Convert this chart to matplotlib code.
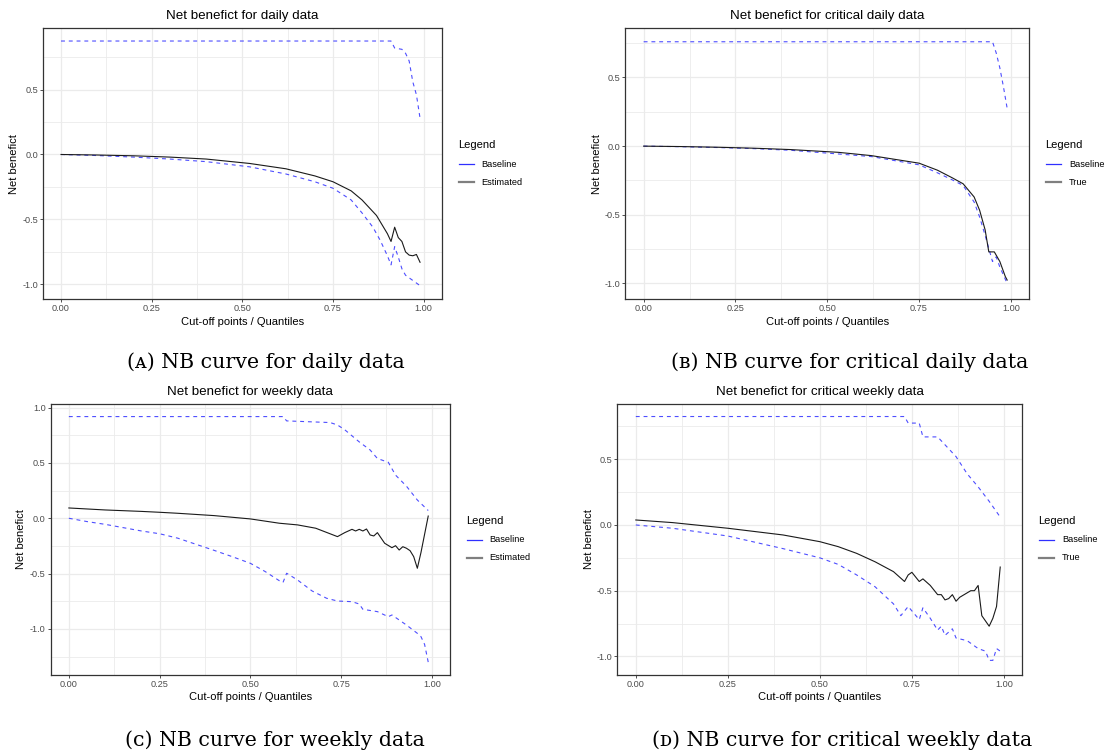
import matplotlib
matplotlib.use("Agg")
import matplotlib.pyplot as plt
from matplotlib.lines import Line2D

plt.rcParams['font.family'] = ['Liberation Sans', 'DejaVu Sans']

# ---------------- data ----------------
# (A) daily data
a_up_x = [0, 0.91, 0.92, 0.94, 0.95, 0.96, 0.97, 0.98, 0.99]
a_up_y = [0.874, 0.874, 0.82, 0.81, 0.78, 0.72, 0.56, 0.46, 0.28]
a_low_x = [0, 0.1, 0.2, 0.3, 0.4, 0.52, 0.62, 0.70, 0.75, 0.80, 0.83, 0.86, 0.88,
           0.90, 0.91, 0.92, 0.93, 0.94, 0.95, 0.97, 0.99]
a_low_y = [0, -0.008, -0.02, -0.035, -0.055, -0.095, -0.15, -0.21, -0.26, -0.35, -0.45,
           -0.56, -0.66, -0.78, -0.85, -0.71, -0.79, -0.88, -0.93, -0.97, -1.01]
a_est_x = [0, 0.1, 0.2, 0.3, 0.4, 0.52, 0.62, 0.70, 0.75, 0.80, 0.83, 0.87, 0.90, 0.91,
           0.92, 0.93, 0.94, 0.95, 0.96, 0.97, 0.98, 0.99]
a_est_y = [0.0, -0.004, -0.01, -0.02, -0.035, -0.069, -0.11, -0.165, -0.21, -0.28, -0.35,
           -0.47, -0.61, -0.67, -0.56, -0.64, -0.67, -0.75, -0.775, -0.78, -0.77, -0.83]

# (B) critical daily data
b_up_x = [0, 0.95, 0.96, 0.97, 0.98, 0.99]
b_up_y = [0.76, 0.76, 0.68, 0.57, 0.43, 0.275]
b_low_x = [0, 0.1, 0.2, 0.3, 0.4, 0.53, 0.62, 0.75, 0.80, 0.84, 0.87, 0.90, 0.915, 0.93,
           0.95, 0.96, 0.97, 0.99]
b_low_y = [0, -0.004, -0.01, -0.018, -0.03, -0.057, -0.076, -0.136, -0.194, -0.245,
           -0.286, -0.407, -0.516, -0.65, -0.84, -0.806, -0.88, -1.0]
b_true_x = [0, 0.1, 0.2, 0.3, 0.4, 0.53, 0.62, 0.75, 0.80, 0.84, 0.87, 0.90, 0.915, 0.93,
            0.94, 0.955, 0.97, 0.985, 0.99]
b_true_y = [0, -0.003, -0.008, -0.015, -0.025, -0.045, -0.069, -0.124, -0.175, -0.23,
            -0.274, -0.37, -0.467, -0.61, -0.77, -0.77, -0.84, -0.95, -0.975]

# (C) weekly data
c_up_x = [0, 0.59, 0.60, 0.72, 0.74, 0.76, 0.80, 0.83, 0.85, 0.88, 0.90, 0.93, 0.96, 0.99]
c_up_y = [0.919, 0.919, 0.88, 0.865, 0.843, 0.80, 0.69, 0.617, 0.54, 0.506, 0.39, 0.29,
          0.165, 0.07]
c_low_x = [0, 0.05, 0.1, 0.2, 0.25, 0.3, 0.4, 0.45, 0.5, 0.54, 0.58, 0.59, 0.60, 0.63,
           0.67, 0.71, 0.74, 0.78, 0.80, 0.81, 0.85, 0.88, 0.89, 0.93, 0.96, 0.97, 0.98, 0.99]
c_low_y = [0, -0.03, -0.055, -0.115, -0.14, -0.18, -0.29, -0.347, -0.407, -0.48, -0.565,
           -0.58, -0.497, -0.558, -0.657, -0.723, -0.748, -0.754, -0.775, -0.823, -0.844,
           -0.89, -0.874, -0.965, -1.04, -1.07, -1.14, -1.30]
c_est_x = [0, 0.1, 0.2, 0.25, 0.3, 0.4, 0.45, 0.5, 0.58, 0.63, 0.68, 0.74, 0.76, 0.78,
           0.79, 0.80, 0.81, 0.82, 0.83, 0.84, 0.85, 0.87, 0.89, 0.90, 0.91, 0.92, 0.93,
           0.94, 0.95, 0.96, 0.97, 0.99]
c_est_y = [0.093, 0.075, 0.062, 0.054, 0.045, 0.024, 0.009, -0.006, -0.045, -0.06, -0.09,
           -0.166, -0.13, -0.10, -0.115, -0.10, -0.115, -0.097, -0.151, -0.16, -0.13,
           -0.226, -0.266, -0.248, -0.287, -0.257, -0.271, -0.293, -0.347, -0.452, -0.31,
           0.02]

# (D) critical weekly data
d_up_x = [0, 0.73, 0.74, 0.77, 0.78, 0.82, 0.84, 0.87, 0.90, 0.93, 0.96, 0.99]
d_up_y = [0.825, 0.825, 0.775, 0.775, 0.67, 0.67, 0.61, 0.52, 0.39, 0.29, 0.18, 0.06]
d_low_x = [0, 0.1, 0.25, 0.4, 0.5, 0.55, 0.6, 0.65, 0.7, 0.72, 0.74, 0.77, 0.78, 0.8,
           0.82, 0.83, 0.84, 0.86, 0.87, 0.9, 0.93, 0.95, 0.96, 0.97, 0.98, 0.99]
d_low_y = [0, -0.025, -0.084, -0.18, -0.25, -0.30, -0.38, -0.47, -0.60, -0.69, -0.62,
           -0.72, -0.63, -0.71, -0.80, -0.77, -0.84, -0.79, -0.86, -0.88, -0.94, -0.96,
           -1.03, -1.03, -0.94, -0.96]
d_true_x = [0, 0.1, 0.25, 0.4, 0.5, 0.55, 0.6, 0.65, 0.7, 0.73, 0.74, 0.75, 0.77, 0.78,
            0.8, 0.82, 0.83, 0.84, 0.85, 0.86, 0.87, 0.88, 0.91, 0.92, 0.93, 0.94, 0.96,
            0.97, 0.98, 0.99]
d_true_y = [0.038, 0.018, -0.025, -0.076, -0.127, -0.165, -0.216, -0.28, -0.355, -0.43,
            -0.38, -0.36, -0.43, -0.41, -0.46, -0.53, -0.53, -0.57, -0.56, -0.53, -0.58,
            -0.55, -0.50, -0.50, -0.46, -0.69, -0.77, -0.71, -0.62, -0.32]

titles = ["Net benefict for daily data", "Net benefict for critical daily data",
          "Net benefict for weekly data", "Net benefict for critical weekly data"]
caption_letters = ["\u1d00", "\u0299", "\u1d04", "\u1d05"]   # small-caps A, B, C, D
caption_texts = ["NB curve for daily data", "NB curve for critical daily data",
                 "NB curve for weekly data", "NB curve for critical weekly data"]
legend_labels = [["Baseline", "Estimated"], ["Baseline", "True"],
                 ["Baseline", "Estimated"], ["Baseline", "True"]]
x_ticks = [0.0, 0.25, 0.5, 0.75, 1.0]
x_ticklabels = ["0.00", "0.25", "0.50", "0.75", "1.00"]

# ---------------- layout (pixels) ----------------
W, H = 1105, 753
fig = plt.figure(figsize=(W / 100, H / 100), dpi=100)
fig.patch.set_facecolor('white')

def fx(px):
    return px / W

def fy(py):
    return 1 - py / H

panels = [
    dict(box=(42.9, 28.3, 441.8, 299.0), ylim=(-1.113, 0.972),
         yticks=[-1.0, -0.5, 0.0, 0.5], ylab_x=14.3, title_y=15.7, xlab_y=321.7,
         leg=(458.2, 145.0), cap=(266, 362),
         series=(a_up_x, a_up_y, a_low_x, a_low_y, a_est_x, a_est_y)),
    dict(box=(625.3, 28.3, 1029.2, 299.0), ylim=(-1.113, 0.858),
         yticks=[-1.0, -0.5, 0.0, 0.5], ylab_x=596.5, title_y=15.7, xlab_y=321.7,
         leg=(1045.6, 145.0), cap=(850, 362),
         series=(b_up_x, b_up_y, b_low_x, b_low_y, b_true_x, b_true_y)),
    dict(box=(50.7, 404.3, 450.0, 674.7), ylim=(-1.414, 1.03),
         yticks=[-1.0, -0.5, 0.0, 0.5, 1.0], ylab_x=21.4, title_y=392.3, xlab_y=697.3,
         leg=(466.0, 520.7), cap=(275, 740),
         series=(c_up_x, c_up_y, c_low_x, c_low_y, c_est_x, c_est_y)),
    dict(box=(617.4, 404.3, 1022.3, 674.7), ylim=(-1.139, 0.918),
         yticks=[-1.0, -0.5, 0.0, 0.5], ylab_x=588.5, title_y=392.3, xlab_y=697.3,
         leg=(1038.6, 520.7), cap=(842, 740),
         series=(d_up_x, d_up_y, d_low_x, d_low_y, d_true_x, d_true_y)),
]

blue = '#2F2FFF'
dark = '#1A1A1A'
grid_c = '#EBEBEB'
border_c = '#333333'
tick_c = '#4D4D4D'

for i, p in enumerate(panels):
    l, t, r, b = p['box']
    ax = fig.add_axes([fx(l), fy(b), (r - l) / W, (b - t) / H])
    ax.set_xlim(-0.05, 1.05)
    ax.set_ylim(*p['ylim'])
    ax.set_facecolor('white')

    ax.set_xticks(x_ticks)
    ax.set_xticklabels(x_ticklabels)
    ax.set_xticks([0.125, 0.375, 0.625, 0.875], minor=True)
    ax.set_yticks(p['yticks'])
    ax.set_yticklabels(["%.1f" % v for v in p['yticks']])
    ymin, ymax = p['ylim']
    minors = [v + 0.25 for v in [-1.5, -1.0, -0.5, 0.0, 0.5, 1.0] if ymin < v + 0.25 < ymax]
    ax.set_yticks(minors, minor=True)
    ax.grid(True, which='major', color=grid_c, lw=0.9)
    ax.grid(True, which='minor', color=grid_c, lw=0.6)
    ax.set_axisbelow(True)
    ax.tick_params(which='minor', length=0)
    ax.tick_params(which='major', length=2.4, width=0.6, color=border_c,
                   labelsize=6.6, labelcolor=tick_c, pad=1.2)
    for s in ax.spines.values():
        s.set_color(border_c)
        s.set_linewidth(0.9)

    ux, uy, lx, ly, ex, ey = p['series']
    ax.plot(ux, uy, color=blue, lw=0.8, ls=(0, (3.5, 3.5)), alpha=0.85)
    ax.plot(lx, ly, color=blue, lw=0.8, ls=(0, (3.5, 3.5)), alpha=0.85)
    ax.plot(ex, ey, color=dark, lw=0.8)

    cx = (l + r) / 2
    fig.text(fx(cx), fy(p['title_y']), titles[i], ha='center', va='center',
             fontsize=9.6, color='black')
    fig.text(fx(cx), fy(p['xlab_y']), "Cut-off points / Quantiles", ha='center',
             va='center', fontsize=8, color='black')
    fig.text(fx(p['ylab_x']), fy((t + b) / 2), "Net benefict", ha='center',
             va='center', rotation=90, fontsize=8, color='black')

    # legend
    lgx, lgy = p['leg']
    fig.text(fx(lgx), fy(lgy), "Legend", ha='left', va='center', fontsize=8,
             color='black')
    keys = [(blue, 0.9), ('#7F7F7F', 1.6)]
    for j, lab in enumerate(legend_labels[i]):
        yy = lgy + 19.3 + j * 17.8
        fig.add_artist(Line2D([fx(lgx + 0.5), fx(lgx + 15.5)], [fy(yy), fy(yy)],
                              color=keys[j][0], lw=keys[j][1]))
        fig.text(fx(lgx + 23.5), fy(yy), lab, ha='left', va='center', fontsize=6.6,
                 color='black')

    cap = "(" + caption_letters[i] + ") " + caption_texts[i]
    fig.text(fx(p['cap'][0]), fy(p['cap'][1]), cap, ha='center', va='center',
             fontsize=14.8, family=['DejaVu Serif', 'DejaVu Sans'], color='black')

fig.savefig('out.png', dpi=100)
